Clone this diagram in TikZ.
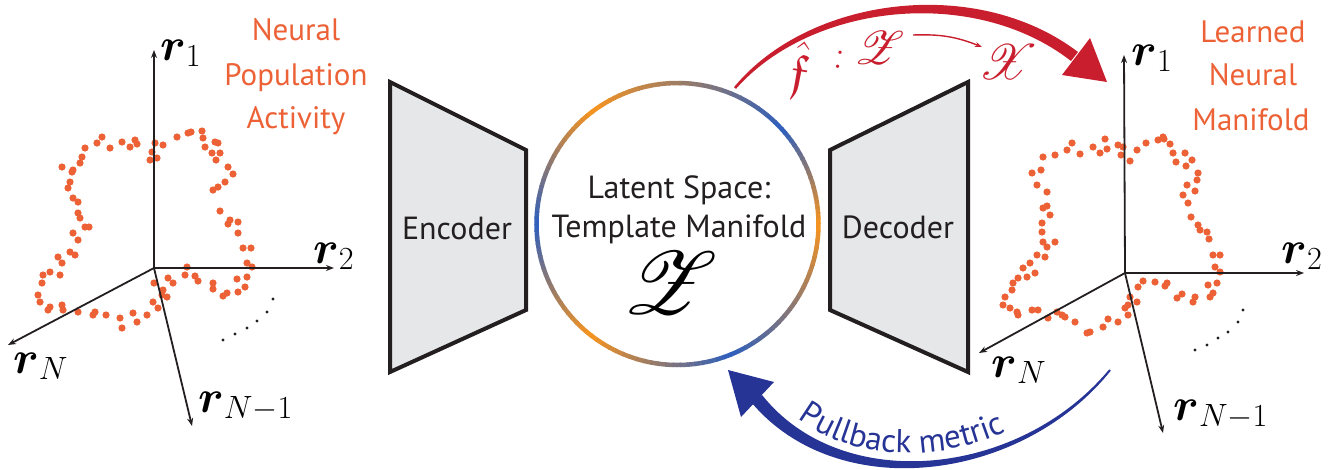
\RequirePackage{fix-cm}
\documentclass[tikz,border=0pt]{standalone}
\usepackage{amsmath,amssymb,mathrsfs}
\usepackage[no-math]{fontspec}
\setmainfont{PT Sans}
\usetikzlibrary{arrows.meta,decorations.text,calc}
\definecolor{neuro}{RGB}{236,98,54}
\definecolor{redarr}{RGB}{200,30,45}
\definecolor{bluearr}{RGB}{38,52,150}
\definecolor{ringO}{RGB}{247,148,30}
\definecolor{ringB}{RGB}{45,95,190}
\definecolor{boxgray}{RGB}{230,231,232}
\definecolor{ink}{RGB}{35,31,32}
\begin{document}
\begin{tikzpicture}[x=1pt,y=-1pt,
  axis/.style={line width=1.8pt, ink, -{Stealth[length=8pt,width=6pt]}},
  axlab/.style={inner sep=0, anchor=base west, font=\fontsize{46}{48}\selectfont},
  title/.style={inner sep=0, anchor=base, neuro, font=\fontsize{31}{36}\selectfont},
  trap/.style={line width=4pt, draw=ink, fill=boxgray, line join=miter},
  boxtext/.style={inner sep=0, anchor=base, ink, font=\fontsize{32}{36}\selectfont},
  redlab/.style={inner sep=0, redarr, font=\fontsize{24}{26}\selectfont}]
\useasboundingbox (0,0) rectangle (1337,469);

% ---------------- left axes ----------------
\coordinate (O1) at (154,268);
\coordinate (L1) at (154,50);
\coordinate (L2) at (334,268);
\coordinate (LN) at (8,345);
\coordinate (LM) at (192,426);
\foreach \x/\y in {62/167,72/172,80/163,82/157,85/148,97/143,102/137,110/148,122/142,130/147,135/140,137/144,152/152,150/160,157/158,155/143,163/145,177/137,188/133,191/132,202/131,203/138,205/147,215/142,218/143,212/153,220/153,216/160,228/167,233/174,225/182,218/187,213/190,220/211,230/220,228/224,238/222,238/233,243/248,251/248,247/263,252/267,247/277,245/287,237/279,238/292,227/293,223/296,213/289,213/283,198/281,195/276,185/275,187/267,173/283,168/278,163/290,162/295,167/297,154/283,153/302,158/308,147/315,137/322,133/313,122/328,120/318,106/315,95/312,93/315,78/312,63/310,62/305,50/307,48/310,40/302,38/295,42/283,43/275,50/272,60/275,62/263,58/257,70/252,75/255,73/233,78/240,85/227,89/227,80/218,78/213,78/202,73/198,68/188,70/182,73/170}
  \fill[neuro] (\x,\y) circle (3.6);
\draw[axis] (O1) -- (L1);
\draw[axis] (O1) -- (L2);
\draw[axis] (O1) -- (LN);
\draw[axis] (O1) -- (LM);
\foreach \x/\y in {223/340,235/334,247/328,257/321,267/312,273/299}
  \fill[ink] (\x,\y) circle (1.6);
\node[axlab] (l1) at (160,60) {$\boldsymbol{r}_1$};
\node[axlab] (l2) at (313,263) {$\boldsymbol{r}_2$};
\node[axlab] (lN) at (13,373) {$\boldsymbol{r}_N$};
\node[axlab] (lM) at (198,412) {$\boldsymbol{r}_{N-1}$};
\node[title] (ta) at (296,40) {Neural};
\node[title] (tb) at (296,85) {Population};
\node[title] (tc) at (296,128) {Activity};

% ---------------- right axes ----------------
\coordinate (O2) at (1125,273);
\coordinate (R1) at (1124,55);
\coordinate (R2) at (1304,273);
\coordinate (RN) at (979,353);
\coordinate (RM) at (1163,433);
\foreach \x/\y in {1032/173,1041/170,1043/157,1055/155,1067/150,1072/143,1080/154,1093/147,1100/153,1105/139,1107/149,1118/145,1123/147,1121/155,1130/161,1137/150,1146/143,1158/140,1163/137,1164/139,1170/144,1173/153,1176/162,1185/153,1192/160,1186/166,1198/173,1197/180,1187/185,1195/191,1183/195,1188/203,1191/217,1198/225,1200/230,1207/232,1209/239,1213/255,1220/255,1215/267,1220/272,1217/283,1208/285,1213/293,1210/297,1195/297,1193/302,1182/294,1177/298,1167/283,1165/286,1155/282,1143/281,1138/287,1130/297,1128/305,1137/302,1125/308,1128/315,1118/322,1108/319,1103/327,1090/332,1087/333,1075/322,1065/317,1062/315,1057/312,1048/318,1038/310,1032/310,1018/315,1017/312,1010/308,1003/305,1005/297,1012/290,1013/283,1018/278,1027/277,1035/273,1023/268,1030/263,1037/255,1045/257,1047/247,1055/242,1043/242,1042/232,1042/223,1050/215,1047/206,1043/208,1047/192,1037/185}
  \fill[neuro] (\x,\y) circle (3.6);
\draw[axis] (O2) -- (R1);
\draw[axis] (O2) -- (R2);
\draw[axis] (O2) -- (RN);
\draw[axis] (O2) -- (RM);
\foreach \x/\y in {1195/350,1207/345,1218/338,1228/332,1238/322,1243/310}
  \fill[ink] (\x,\y) circle (1.6);
\node[axlab] (r1) at (1131,65) {$\boldsymbol{r}_1$};
\node[axlab] (r2) at (1281,263) {$\boldsymbol{r}_2$};
\node[axlab] (rN) at (991,377) {$\boldsymbol{r}_N$};
\node[axlab] (rM) at (1173,420) {$\boldsymbol{r}_{N-1}$};
\node[title] (ua) at (1253,42) {Learned};
\node[title] (ub) at (1253,85) {Neural};
\node[title] (uc) at (1251,130) {Manifold};

% ---------------- encoder / decoder ----------------
\draw[trap] (390,82) -- (526,150) -- (526,310) -- (390,372) -- cycle;
\draw[trap] (968,82) -- (830,150) -- (830,310) -- (968,372) -- cycle;
\node[boxtext] (enc) at (457,239) {Encoder};
\node[boxtext] (dec) at (898,238) {Decoder};

% ---------------- latent circle ----------------
\node[circle, minimum size=282pt, inner sep=0] (Z) at (677.5,224) {};
\foreach \s/\e/\ca/\cb in {0/42/ringO/ringB, 42/127/ringB/ringO, 127/180/ringO/ringB, 180/232/ringB/ringO, 232/292/ringO/ringB, 292/360/ringB/ringO}{
  \foreach \i in {0,...,19}{
    \pgfmathsetmacro\aa{-(\s+(\e-\s)*\i/20)}
    \pgfmathsetmacro\ab{-(\s+(\e-\s)*(\i+1)/20+0.5)}
    \pgfmathsetmacro\pp{100*(\i+0.5)/20}
    \draw[line width=4.5pt, color=\cb!\pp!\ca] ($(Z)+(\aa:141)$) arc[start angle=\aa, end angle=\ab, radius=141];
  }
}
\node[boxtext, font=\fontsize{32}{36}\selectfont] (zl1) at (679,198) {Latent Space:};
\node[boxtext, font=\fontsize{32}{36}\selectfont] (zl2) at (679,237) {Template Manifold};
\node[inner sep=0, scale=3.6, font=\fontsize{24}{26}\selectfont] (zsym) at (670,283) {$\mathscr{Z}$};

% ---------------- red arrow ----------------
\fill[redarr] (734.0,87.2) .. controls (808.6,-3.2) and (976.1,-25.4) .. (1078,52) -- (1071,61) .. controls (973.9,-14.6) and (811.4,3.2) .. (736,88.8) -- cycle;
\fill[redarr] (1062,75) -- (1090,38) -- (1107,82) -- cycle;
\node[redlab, scale=2.1, rotate=-10] (fh) at (800,70) {$\hat{\mathfrak{f}}$};
\node[redlab, scale=1.7, rotate=-10] (colon) at (839,60) {$:$};
\node[redlab, scale=1.9] (zr) at (880,48) {$\mathscr{Z}$};
\node[redlab, scale=2.0] (xr) at (1008,62) {$\mathscr{X}$};
\coordinate (sa) at (913,35);
\coordinate (sb) at (982,47);
\draw[redarr, line width=1.4pt, -{Stealth[length=7pt,width=5pt]}] (sa) to[bend left=12] (sb);

% ---------------- blue arrow ----------------
\fill[bluearr] (1110.8,370.6) .. controls (1021.1,482.3) and (838.5,504.8) .. (752,403.1) -- (762,394.9) .. controls (841.5,495.2) and (1018.9,477.8) .. (1109.2,369.4) -- cycle;
\fill[bluearr] (728,370) -- (774,382) -- (741,417) -- cycle;
\path[decorate, decoration={text along path, text align={left, left indent=40pt},
  text={|\fontsize{33}{36}\selectfont\color{bluearr}|Pullback metric}}]
  (769.4,390.8) .. controls (844.7,486.7) and (1013.1,467.6) .. (1097.7,361.9);
\end{tikzpicture}
\end{document}
